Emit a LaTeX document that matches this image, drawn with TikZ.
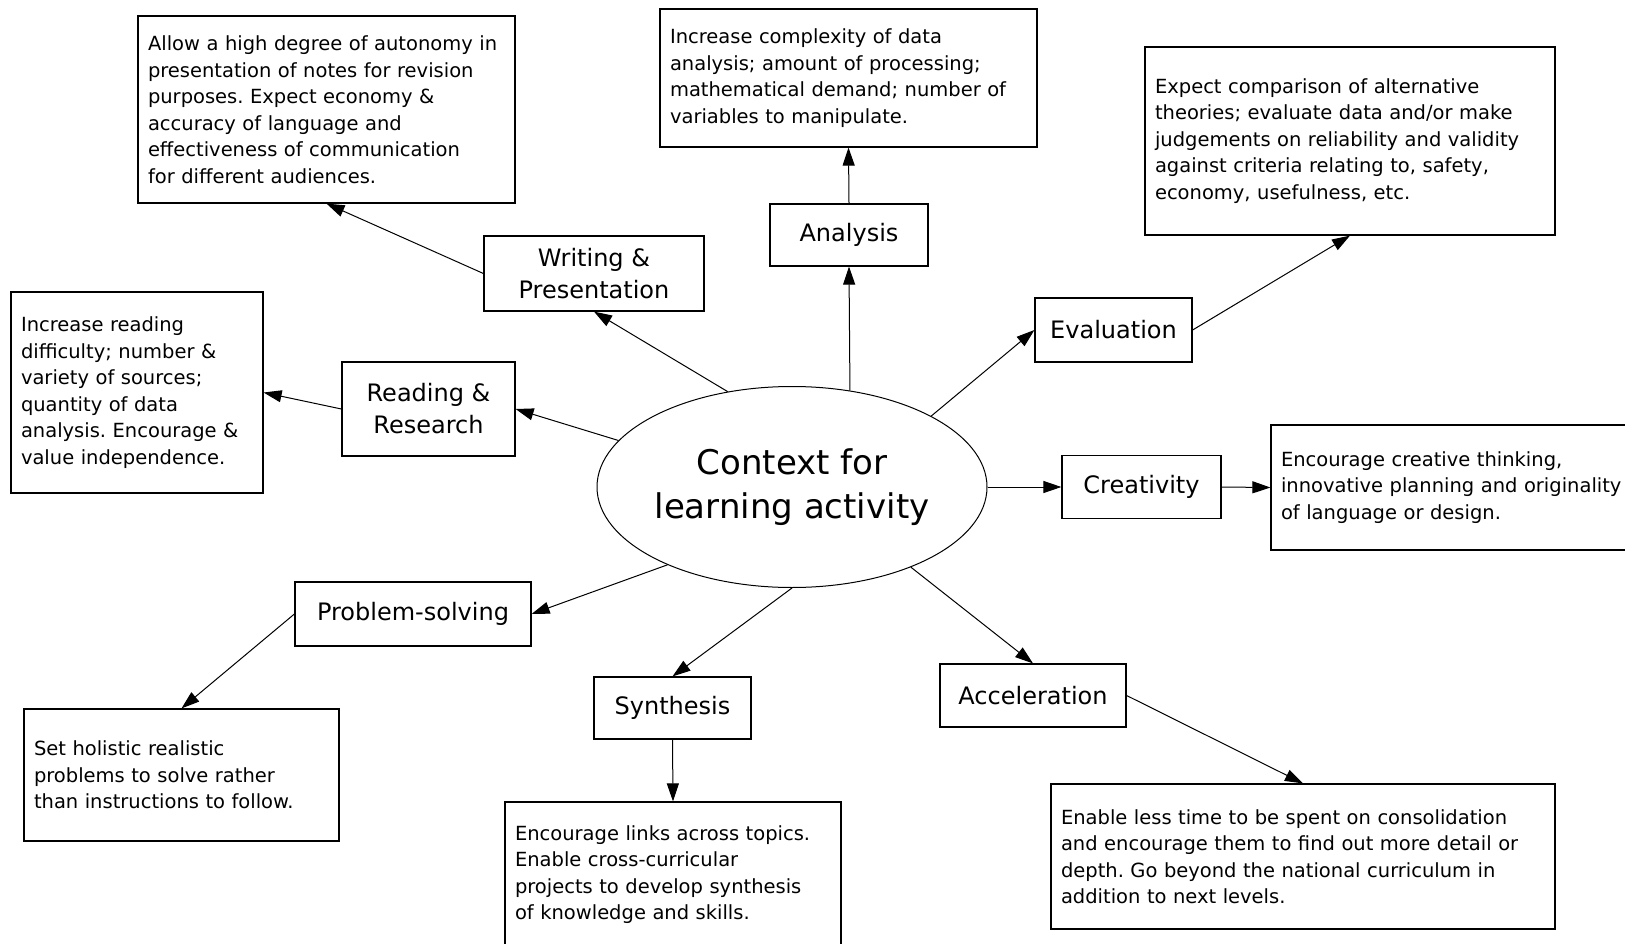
\documentclass[tikz,border=0pt]{standalone}
\usepackage{fontspec}
\setmainfont{DejaVu Sans}
\usetikzlibrary{arrows.meta,shapes.geometric}
\newcommand\mybodyfont{\fontsize{19.5}{26.5}\selectfont\frenchspacing\hyphenpenalty=10000\relax\exhyphenpenalty=10000\relax}
\tikzset{
  txtbox/.style={draw, line width=1.2pt, align=left, inner xsep=10pt, inner ysep=0pt,
    font=\mybodyfont},
  lblbox/.style={draw, line width=1.2pt, align=center, inner sep=0pt,
    font=\fontsize{24}{32}\selectfont},
  conn/.style={line width=1pt, -{Triangle[length=18pt,width=12pt]}},
}
\begin{document}
\begin{tikzpicture}[x=1pt,y=-1pt]
\useasboundingbox (0,0) rectangle (1625,944);
% central ellipse
\node[ellipse, draw, line width=1pt, minimum width=390pt, minimum height=201pt, inner sep=0pt,
  align=center, font=\fontsize{34}{43.5}\selectfont] (ctx) at (792,487) {Context for\\learning activity};
% label boxes
\node[lblbox, minimum width=220pt, minimum height=75pt] (wp) at (594,273.5) {Writing \&\\Presentation};
\node[lblbox, minimum width=158pt, minimum height=62pt] (an) at (849,235) {Analysis};
\node[lblbox, minimum width=157pt, minimum height=64pt] (ev) at (1113.5,330) {Evaluation};
\node[lblbox, minimum width=173pt, minimum height=94pt] (rr) at (428.5,409) {Reading \&\\Research};
\node[lblbox, minimum width=159pt, minimum height=63pt] (cr) at (1141.5,487) {Creativity};
\node[lblbox, minimum width=236pt, minimum height=64pt] (ps) at (413,614) {Problem-solving};
\node[lblbox, minimum width=157pt, minimum height=62pt] (sy) at (672.5,708) {Synthesis};
\node[lblbox, minimum width=186pt, minimum height=63pt] (ac) at (1033,695.5) {Acceleration};
% text boxes
\node[txtbox, text width=357pt, minimum height=187pt] (wtext) at (326.5,109.5)
  {Allow a high degree of autonomy in\\presentation of notes for revision\\purposes. Expect economy \&\\accuracy of language and\\effectiveness of communication\\for different audiences.};
\node[txtbox, text width=357pt, minimum height=138pt] (atext) at (848.5,78)
  {Increase complexity of data\\analysis; amount of processing;\\mathematical demand; number of\\variables to manipulate.};
\node[txtbox, text width=390pt, minimum height=188pt] (etext) at (1350,141)
  {Expect comparison of alternative\\theories; evaluate data and/or make\\judgements on reliability and validity\\against criteria relating to, safety,\\economy, usefulness, etc.};
\node[txtbox, text width=232pt, minimum height=201pt] (rtext) at (137,392.5)
  {Increase reading\\difficulty; number \&\\variety of sources;\\quantity of data\\analysis. Encourage \&\\value independence.};
\node[txtbox, text width=352pt, minimum height=125pt] (ctext) at (1457,487.5)
  {Encourage creative thinking,\\innovative planning and originality\\of language or design.};
\node[txtbox, text width=295pt, minimum height=132pt] (ptext) at (181.5,775)
  {Set holistic realistic\\problems to solve rather\\than instructions to follow.};
\node[txtbox, text width=316pt, minimum height=145pt] (stext) at (673,874.5)
  {Encourage links across topics.\\Enable cross-curricular\\projects to develop synthesis\\of knowledge and skills.};
\node[txtbox, text width=484pt, minimum height=145pt] (actext) at (1303,856.5)
  {Enable less time to be spent on consolidation\\and encourage them to find out more detail or\\depth. Go beyond the national curriculum in\\addition to next levels.};
% connectors
\draw[conn] (wp.west) -- (wtext.south);
\draw[conn] (ctx.124) -- (wp.south);
\draw[conn] (ctx.165) -- (rr.east);
\draw[conn] (rr.west) -- (rtext.east);
\draw[conn] (ctx.59) -- (an.south);
\draw[conn] (an.north) -- (atext.south);
\draw[conn] (ctx.27) -- (ev.west);
\draw[conn] (ev.east) -- (etext.south);
\draw[conn] (ctx.east) -- (cr.west);
\draw[conn] (cr.east) -- (ctext.west);
\draw[conn] (ctx.-34) -- (ac.north);
\draw[conn] (ac.east) -- (actext.north);
\draw[conn] (ctx.south) -- (sy.north);
\draw[conn] (sy.south) -- (stext.north);
\draw[conn] (ctx.212) -- (ps.east);
\draw[conn] (ps.west) -- (ptext.north);
\end{tikzpicture}
\end{document}
